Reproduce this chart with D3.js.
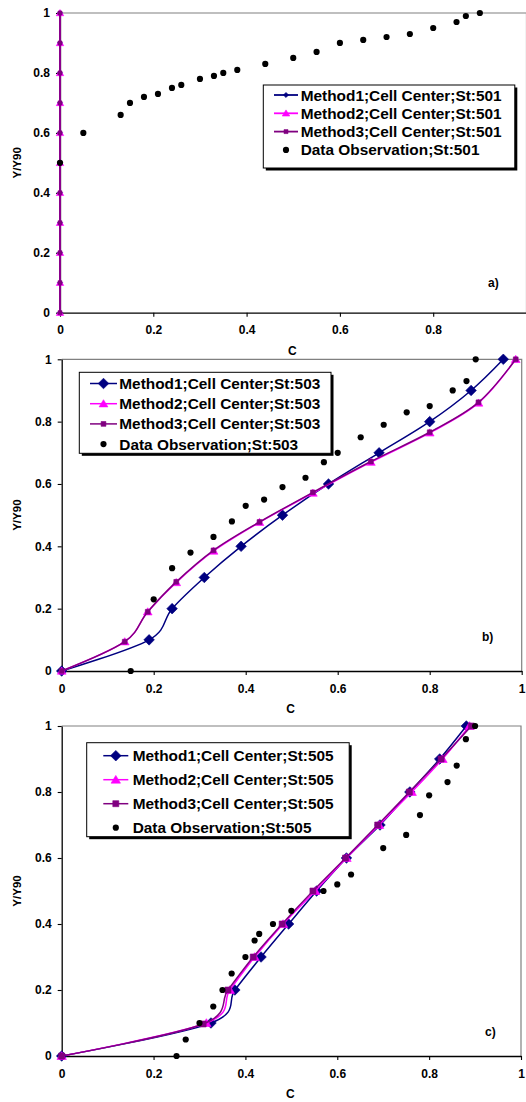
<!DOCTYPE html>
<html>
<head>
<meta charset="utf-8">
<script src="https://cdn.jsdelivr.net/npm/d3@7"></script>
<style>
  body { margin: 0; background: #fff; }
  svg { display: block; font-family: "Liberation Sans", Arial, sans-serif; font-weight: bold; }
</style>
</head>
<body>
<svg id="chart" width="526" height="1102"></svg>
<script>
// ---- tick labels ----
const yTicks = [0, 0.2, 0.4, 0.6, 0.8, 1];
const xTicksA = [0, 0.2, 0.4, 0.6, 0.8];
const xTicksBC = [0, 0.2, 0.4, 0.6, 0.8, 1];

// ---- station 501 ----
const a_m1_C = [0, 0, 0, 0, 0, 0, 0, 0, 0, 0, 0];
const a_m1_Y = [0, 0.1, 0.2, 0.3, 0.4, 0.5, 0.6, 0.7, 0.8, 0.9, 1.0];
const a_m2_C = [0, 0, 0, 0, 0, 0, 0, 0, 0, 0, 0];
const a_m2_Y = [0, 0.1, 0.2, 0.3, 0.4, 0.5, 0.6, 0.7, 0.8, 0.9, 1.0];
const a_m3_C = [0, 0, 0, 0, 0, 0, 0, 0, 0, 0, 0];
const a_m3_Y = [0, 0.1, 0.2, 0.3, 0.4, 0.5, 0.6, 0.7, 0.8, 0.9, 1.0];
const a_obs_C = [0, 0.05, 0.13, 0.15, 0.18, 0.21, 0.24, 0.26, 0.30, 0.33, 0.35, 0.38, 0.44, 0.50, 0.55, 0.60, 0.65, 0.70, 0.75, 0.80, 0.85, 0.87, 0.90];
const a_obs_Y = [0.50, 0.60, 0.66, 0.70, 0.72, 0.73, 0.75, 0.76, 0.78, 0.79, 0.80, 0.81, 0.83, 0.85, 0.87, 0.90, 0.91, 0.92, 0.93, 0.95, 0.97, 0.99, 1.00];

// ---- station 503 ----
const b_m1_C = [0, 0.19, 0.24, 0.31, 0.39, 0.48, 0.58, 0.69, 0.80, 0.89, 0.96];
const b_m1_Y = [0, 0.1, 0.2, 0.3, 0.4, 0.5, 0.6, 0.7, 0.8, 0.9, 1.0];
const b_m2_C = [0, 0.137, 0.187, 0.249, 0.33, 0.43, 0.546, 0.672, 0.80, 0.906, 0.987];
const b_m2_Y = [0, 0.094, 0.19, 0.284, 0.385, 0.477, 0.571, 0.67, 0.764, 0.86, 1.0];
const b_m3_C = [0, 0.137, 0.187, 0.249, 0.33, 0.43, 0.546, 0.672, 0.80, 0.906, 0.987];
const b_m3_Y = [0, 0.094, 0.19, 0.286, 0.387, 0.478, 0.573, 0.672, 0.766, 0.862, 1.0];
const b_obs_C = [0.15, 0.20, 0.24, 0.28, 0.33, 0.37, 0.40, 0.44, 0.48, 0.53, 0.57, 0.60, 0.65, 0.70, 0.75, 0.80, 0.85, 0.88, 0.90];
const b_obs_Y = [0, 0.23, 0.33, 0.38, 0.43, 0.48, 0.53, 0.55, 0.59, 0.62, 0.67, 0.70, 0.75, 0.79, 0.83, 0.85, 0.90, 0.93, 1.0];

// ---- station 505 ----
const c_m1_C = [0, 0.325, 0.377, 0.434, 0.494, 0.555, 0.62, 0.693, 0.758, 0.823, 0.881];
const c_m1_Y = [0, 0.1, 0.2, 0.3, 0.4, 0.5, 0.6, 0.7, 0.8, 0.9, 1.0];
const c_m2_C = [0, 0.315, 0.366, 0.42, 0.482, 0.552, 0.62, 0.691, 0.762, 0.829, 0.888];
const c_m2_Y = [0, 0.1, 0.2, 0.3, 0.4, 0.5, 0.6, 0.7, 0.8, 0.9, 1.0];
const c_m3_C = [0, 0.308, 0.362, 0.417, 0.48, 0.547, 0.618, 0.688, 0.757, 0.826, 0.892];
const c_m3_Y = [0, 0.097, 0.2, 0.3, 0.4, 0.5, 0.6, 0.7, 0.8, 0.9, 1.0];
const c_obs_C = [0.25, 0.27, 0.30, 0.33, 0.35, 0.37, 0.40, 0.42, 0.43, 0.46, 0.50, 0.57, 0.60, 0.63, 0.70, 0.75, 0.78, 0.80, 0.84, 0.86, 0.88, 0.90];
const c_obs_Y = [0, 0.05, 0.10, 0.15, 0.20, 0.25, 0.30, 0.35, 0.37, 0.40, 0.44, 0.50, 0.52, 0.55, 0.63, 0.67, 0.73, 0.79, 0.83, 0.88, 0.96, 1.0];

// ---- series names ----
const seriesNames = ["Method1;Cell Center;St:", "Method2;Cell Center;St:", "Method3;Cell Center;St:", "Data Observation;St:"];

const COLORS = { m1: "#000080", m2: "#ff00ff", m3: "#800080", obs: "#000000" };

const zip = (xs, ys) => xs.map((v, i) => [v, ys[i]]);

// marker path builders
function diamond(r) { return `M0,${-r}L${r},0L0,${r}L${-r},0Z`; }
function triangle(r) { return `M0,${-r}L${r * 1.1},${r * 0.8}L${-r * 1.1},${r * 0.8}Z`; }
function square(r) { return `M${-r},${-r}H${r}V${r}H${-r}Z`; }

const panels = [
  {
    st: "501", tag: "a)",
    xRange: [60, 526.5], yRange: [312.7, 13], frameRight: 526.5, xTicks: xTicksA,
    tagPos: [488, 287],
    sizes: { d: 2.6, t: 3.4, s: 2, c: 3.1, lw: 1.8 },
    legend: { x: 263.3, y: 85, w: 251.5, h: 83, row0: 95, dy: 18.3, symX: 274, symW: 24, textX: 300.7 },
    series: [
      zip(a_m1_C, a_m1_Y), zip(a_m2_C, a_m2_Y), zip(a_m3_C, a_m3_Y), zip(a_obs_C, a_obs_Y)
    ]
  },
  {
    st: "503", tag: "b)",
    xRange: [61.7, 521.7], yRange: [671, 359.3], frameRight: 521.7, xTicks: xTicksBC,
    tagPos: [482, 641],
    sizes: { d: 5.3, t: 4, s: 2.4, c: 3.1, lw: 1.5 },
    legend: { x: 79.3, y: 372.3, w: 251.7, h: 81, row0: 383.5, dy: 20.2, symX: 90, symW: 27, textX: 119.3 },
    series: [
      zip(b_m1_C, b_m1_Y), zip(b_m2_C, b_m2_Y), zip(b_m3_C, b_m3_Y), zip(b_obs_C, b_obs_Y)
    ]
  },
  {
    st: "505", tag: "c)",
    xRange: [61.7, 521], yRange: [1056, 726], frameRight: 521, xTicks: xTicksBC,
    tagPos: [485, 1036],
    sizes: { d: 5.3, t: 4.3, s: 3, c: 3.1, lw: 1.5 },
    legend: { x: 86.7, y: 742.7, w: 262.5, h: 94, row0: 755.7, dy: 24, symX: 103.3, symW: 25, textX: 132.7 },
    series: [
      zip(c_m1_C, c_m1_Y), zip(c_m2_C, c_m2_Y), zip(c_m3_C, c_m3_Y), zip(c_obs_C, c_obs_Y)
    ]
  }
];

const svg = d3.select("#chart");

function drawMarker(g, kind, sz, x, y) {
  if (kind === 0) {
    g.append("path").attr("d", diamond(sz.d)).attr("transform", `translate(${x},${y})`)
      .attr("fill", COLORS.m1).attr("stroke", COLORS.m1).attr("stroke-width", 0.6);
  } else if (kind === 1) {
    g.append("path").attr("d", triangle(sz.t)).attr("transform", `translate(${x},${y})`)
      .attr("fill", COLORS.m2).attr("stroke", COLORS.m2).attr("stroke-width", 0.6);
  } else if (kind === 2) {
    g.append("path").attr("d", square(sz.s)).attr("transform", `translate(${x},${y})`)
      .attr("fill", COLORS.m3).attr("stroke", COLORS.m3).attr("stroke-width", 0.6);
  } else {
    g.append("circle").attr("cx", x).attr("cy", y).attr("r", sz.c).attr("fill", COLORS.obs);
  }
}

panels.forEach(p => {
  const x = d3.scaleLinear().domain([0, 1]).range(p.xRange);
  const y = d3.scaleLinear().domain([0, 1]).range(p.yRange);
  const g = svg.append("g");
  const top = p.yRange[1], bottom = p.yRange[0], left = p.xRange[0];

  // plot-area border (top and right)
  g.append("path")
    .attr("d", `M${left},${top}H${p.frameRight}V${bottom}`)
    .attr("fill", "none").attr("stroke", "#808080").attr("stroke-width", 1.2);

  // axes
  const yAxis = g.append("g").attr("transform", `translate(${left},0)`)
    .call(d3.axisLeft(y).tickValues(yTicks).tickSize(4).tickSizeOuter(0).tickPadding(6).tickFormat(d => String(d)));
  const xAxis = g.append("g").attr("transform", `translate(0,${bottom})`)
    .call(d3.axisBottom(x).tickValues(p.xTicks).tickSize(4).tickSizeOuter(0).tickPadding(9).tickFormat(d => String(d)));
  [yAxis, xAxis].forEach(ax => {
    ax.selectAll("path.domain").attr("stroke", "#000").attr("stroke-width", 1.3);
    ax.selectAll(".tick line").attr("stroke", "#000").attr("stroke-width", 1.1);
    ax.selectAll(".tick text").attr("fill", "#000").attr("font-size", 12).attr("font-weight", "bold")
      .attr("font-family", "'Liberation Sans', Arial, sans-serif");
  });

  // axis titles
  g.append("text").attr("x", (p.xRange[0] + p.xRange[1]) / 2 - 1).attr("y", bottom + 42)
    .attr("text-anchor", "middle").attr("font-size", 12).text("C");
  g.append("text").attr("transform", `translate(21,${(top + bottom) / 2}) rotate(-90)`)
    .attr("text-anchor", "middle").attr("font-size", 11.5).text("Y/Y90");

  // series: smoothed lines with markers
  const line = d3.line().x(d => x(d[0])).y(d => y(d[1])).curve(d3.curveCardinal.tension(0));
  const lineColors = [COLORS.m1, COLORS.m2, COLORS.m3];
  p.series.forEach((pts, k) => {
    const sg = g.append("g");
    if (k < 3) {
      sg.append("path").attr("d", line(pts)).attr("fill", "none")
        .attr("stroke", lineColors[k]).attr("stroke-width", p.sizes.lw);
    }
    pts.forEach(d => drawMarker(sg, k, p.sizes, x(d[0]), y(d[1])));
  });

  // panel tag
  g.append("text").attr("x", p.tagPos[0]).attr("y", p.tagPos[1]).attr("font-size", 12).text(p.tag);

  // legend
  const L = p.legend;
  const lg = g.append("g");
  lg.append("rect").attr("x", L.x + 2.5).attr("y", L.y + 2.5).attr("width", L.w).attr("height", L.h).attr("fill", "#000");
  lg.append("rect").attr("x", L.x).attr("y", L.y).attr("width", L.w).attr("height", L.h)
    .attr("fill", "#fff").attr("stroke", "#000").attr("stroke-width", 1);
  seriesNames.forEach((name, k) => {
    const ry = L.row0 + k * L.dy;
    if (k < 3) {
      lg.append("line").attr("x1", L.symX).attr("x2", L.symX + L.symW).attr("y1", ry).attr("y2", ry)
        .attr("stroke", lineColors[k]).attr("stroke-width", p.sizes.lw);
    }
    drawMarker(lg, k, p.sizes, L.symX + L.symW / 2, ry);
    lg.append("text").attr("x", L.textX).attr("y", ry).attr("dy", "0.36em")
      .attr("font-size", 15.4).text(name + p.st);
  });
});
</script>
</body>
</html>
